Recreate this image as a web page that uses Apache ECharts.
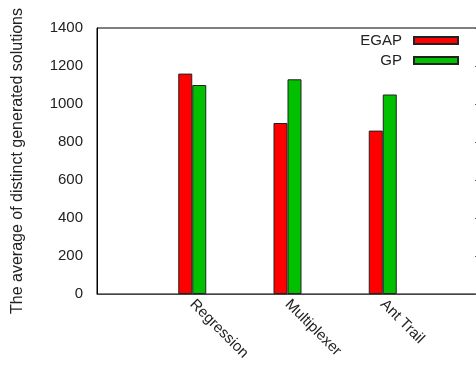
<!DOCTYPE html>
<html>
<head>
<meta charset="utf-8">
<script src="https://cdn.jsdelivr.net/npm/echarts@6/dist/echarts.min.js"></script>
<style>
  html, body { margin: 0; padding: 0; background: #fff; }
  #chart { width: 476px; height: 365px; }
</style>
</head>
<body>
<div id="chart"></div>
<script>
// Benchmarks on the x axis
const categories = ['Regression', 'Multiplexer', 'Ant Trail'];
// Average number of distinct generated solutions per method
const egapValues = [1160, 900, 860];
const gpValues = [1100, 1130, 1050];
// Y axis range and step
const yTicks = [0, 200, 400, 600, 800, 1000, 1200, 1400];

// Empty slots at both ends keep the benchmarks away from the plot borders
const slots = [''].concat(categories, ['']);
const pad = arr => [null].concat(arr, [null]);

const font = 'Liberation Sans, Arial, sans-serif';
const textColor = '#222';

const chart = echarts.init(document.getElementById('chart'), null, { renderer: 'canvas' });
chart.setOption({
  animation: false,
  backgroundColor: '#fff',
  grid: {
    left: 97, top: 28, width: 381, height: 266,
    containLabel: false,
    outerBoundsMode: 'none',
    show: true, borderColor: '#000', borderWidth: 1, backgroundColor: 'transparent'
  },
  legend: {
    orient: 'vertical',
    align: 'right',
    right: 17,
    top: 33,
    padding: 0,
    itemWidth: 44,
    itemHeight: 7,
    itemGap: 5,
    icon: 'rect',
    textStyle: {
      fontFamily: font, fontSize: 15, color: textColor,
      padding: [0, 7, 0, 0]
    },
    data: ['EGAP', 'GP']
  },
  xAxis: {
    type: 'category',
    data: slots,
    boundaryGap: false,
    axisLine: { show: true, lineStyle: { color: '#444', width: 1 } },
    axisTick: { show: false },
    splitLine: { show: false },
    axisLabel: {
      rotate: -45, margin: 8, interval: 0,
      fontFamily: font, fontSize: 15, color: textColor
    }
  },
  yAxis: [{
    type: 'value',
    min: yTicks[0],
    max: yTicks[yTicks.length - 1],
    interval: yTicks[1] - yTicks[0],
    name: 'The average of distinct generated solutions',
    nameLocation: 'middle',
    nameGap: 71,
    nameTextStyle: { fontFamily: font, fontSize: 16, color: textColor },
    axisLine: { show: true, lineStyle: { color: '#000', width: 1 } },
    axisTick: { show: false },
    splitLine: { show: false },
    axisLabel: {
      margin: 14, fontFamily: font, fontSize: 15, color: textColor,
      formatter: v => String(v)
    }
  }, {
    type: 'value',
    position: 'right',
    min: yTicks[0],
    max: yTicks[yTicks.length - 1],
    interval: yTicks[1] - yTicks[0],
    axisLine: { show: false },
    axisTick: { show: true, inside: true, length: 3, lineStyle: { color: '#555' } },
    axisLabel: { show: false },
    splitLine: { show: false }
  }],
  series: [{
    name: 'EGAP',
    type: 'bar',
    data: pad(egapValues),
    barWidth: 14,
    barGap: '0%',
    itemStyle: { color: '#ff0000', borderColor: '#222', borderWidth: 1 }
  }, {
    name: 'GP',
    type: 'bar',
    data: pad(gpValues),
    barWidth: 14,
    barGap: '0%',
    itemStyle: { color: '#00c000', borderColor: '#222', borderWidth: 1 }
  }]
});
</script>
</body>
</html>
